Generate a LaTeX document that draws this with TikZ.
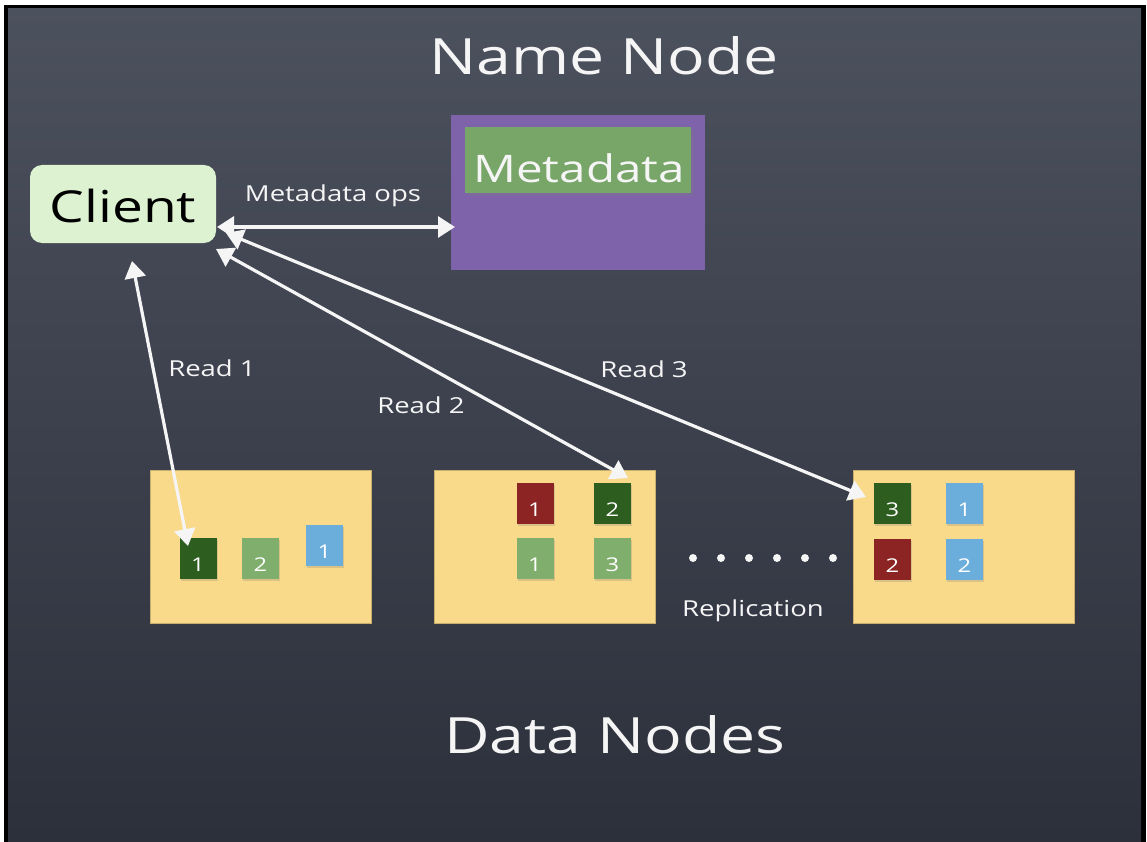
\documentclass[tikz,border=0pt]{standalone}
\usepackage{fontspec}
\setmainfont{Open Sans}
\newfontfamily\chalkfont[FakeStretch=1.25]{Open Sans}
\usetikzlibrary{arrows.meta,shadows}
\definecolor{boardtop}{RGB}{76,81,94}
\definecolor{boardbot}{RGB}{44,48,59}
\definecolor{clientgreen}{RGB}{220,242,208}
\definecolor{nnpurple}{RGB}{126,98,170}
\definecolor{mdgreen}{RGB}{120,165,104}
\definecolor{dnyellow}{RGB}{249,217,138}
\definecolor{bdark}{RGB}{45,94,32}
\definecolor{blight}{RGB}{128,174,108}
\definecolor{bblue}{RGB}{108,174,219}
\definecolor{bred}{RGB}{139,36,35}
\definecolor{chalk}{RGB}{245,245,245}
\tikzset{
  chalktext/.style={text=chalk, inner sep=0pt},
  smalltext/.style={chalktext, font=\chalkfont\fontsize{22}{22}\selectfont},
  dnbox/.style={fill=dnyellow, draw=dnyellow!80!black, line width=0.5pt, minimum width=221pt, minimum height=153pt, inner sep=0pt},
  blockbox/.style={minimum width=37pt, minimum height=41pt, inner sep=0pt, drop shadow={opacity=0.25, shadow xshift=1pt, shadow yshift=-1.5pt}},
  blocknum/.style={text=white, font=\chalkfont\fontsize{19}{19}\selectfont, inner sep=0pt},
  chalkarrow/.style={draw=chalk, line width=3.2pt, {Triangle[width=21pt,length=17pt]}-{Triangle[width=21pt,length=17pt]}},
  dot/.style={circle, fill=chalk, minimum size=8pt, inner sep=0pt}
}
\begin{document}
\begin{tikzpicture}[x=1pt,y=-1pt]
\useasboundingbox (0,0) rectangle (1147,842);
\fill[white] (0,0) rectangle (1147,842);
\fill[black] (4,5) rectangle (1146,842);
\shade[top color=boardtop, bottom color=boardbot] (8,9) rectangle (1141,842);

% titles
\node[chalktext, font=\chalkfont\fontsize{50}{50}\selectfont] (nntitle) at (604,56) {Name Node};
\node[chalktext, font=\chalkfont\fontsize{50}{50}\selectfont] (dntitle) at (615,735) {Data Nodes};

% client
\node[fill=clientgreen, rounded corners=12pt, minimum width=186pt, minimum height=78pt, inner sep=0pt] (client) at (123,204) {};
\node[text=black, font=\chalkfont\fontsize{44}{44}\selectfont, inner sep=0pt] (clienttext) at (123,206) {Client};

% name node
\node[fill=nnpurple, minimum width=254pt, minimum height=155pt, inner sep=0pt] (namenode) at (578,192.5) {};
\node[fill=mdgreen, minimum width=226pt, minimum height=66pt, inner sep=0pt, drop shadow={opacity=0.25}] (metabox) at (578,160) {};
\node[chalktext, font=\chalkfont\fontsize{38}{38}\selectfont] (metatext) at (579,168) {Metadata};

% data nodes
\node[dnbox] (dn1) at (260.5,546.5) {};
\node[dnbox] (dn2) at (545,546.5) {};
\node[dnbox] (dn3) at (964,546.5) {};

% blocks dn1
\node[blockbox, fill=bdark] (a1) at (198,558.5) {};
\node[blocknum] at (198,565) {1};
\node[blockbox, fill=blight] (a2) at (260.5,558.5) {};
\node[blocknum] at (260.5,565) {2};
\node[blockbox, fill=bblue] (a3) at (324.5,545.5) {};
\node[blocknum] at (324.5,552) {1};
% blocks dn2
\node[blockbox, fill=bred] (b1) at (535,503.5) {};
\node[blocknum] at (535,510) {1};
\node[blockbox, fill=bdark] (b2) at (612.5,503.5) {};
\node[blocknum] at (612.5,510) {2};
\node[blockbox, fill=blight] (b3) at (535,558.5) {};
\node[blocknum] at (535,565) {1};
\node[blockbox, fill=blight] (b4) at (612.5,558.5) {};
\node[blocknum] at (612.5,565) {3};
% blocks dn3
\node[blockbox, fill=bdark] (c1) at (892.5,503.5) {};
\node[blocknum] at (892.5,510) {3};
\node[blockbox, fill=bblue] (c2) at (964.5,503.5) {};
\node[blocknum] at (964.5,510) {1};
\node[blockbox, fill=bred] (c3) at (892.5,559.5) {};
\node[blocknum] at (892.5,566) {2};
\node[blockbox, fill=bblue] (c4) at (964.5,559.5) {};
\node[blocknum] at (964.5,566) {2};

% dots and replication
\foreach \i/\x in {1/693,2/721,3/749,4/777,5/805,6/833} {
  \node[dot] (d\i) at (\x,558) {};
}
\node[smalltext] (repl) at (753,611) {Replication};

% arrow end points
\coordinate (cm) at (217,227);
\coordinate (nm) at (455,227);
\coordinate (cr1) at (132,261);
\coordinate (dr1) at (188,546);
\coordinate (cr2) at (216,249);
\coordinate (dr2) at (628,478);
\coordinate (cr3) at (226,233);
\coordinate (dr3) at (866,497);

\draw[chalkarrow] (cm) -- (nm);
\draw[chalkarrow] (cr1) -- (dr1);
\draw[chalkarrow] (cr2) -- (dr2);
\draw[chalkarrow] (cr3) -- (dr3);

% labels
\node[smalltext] (lmeta) at (333,196) {Metadata ops};
\node[smalltext] (lr1) at (212,368) {Read 1};
\node[smalltext] (lr2) at (421,405) {Read 2};
\node[smalltext] (lr3) at (644,369) {Read 3};
\end{tikzpicture}
\end{document}
